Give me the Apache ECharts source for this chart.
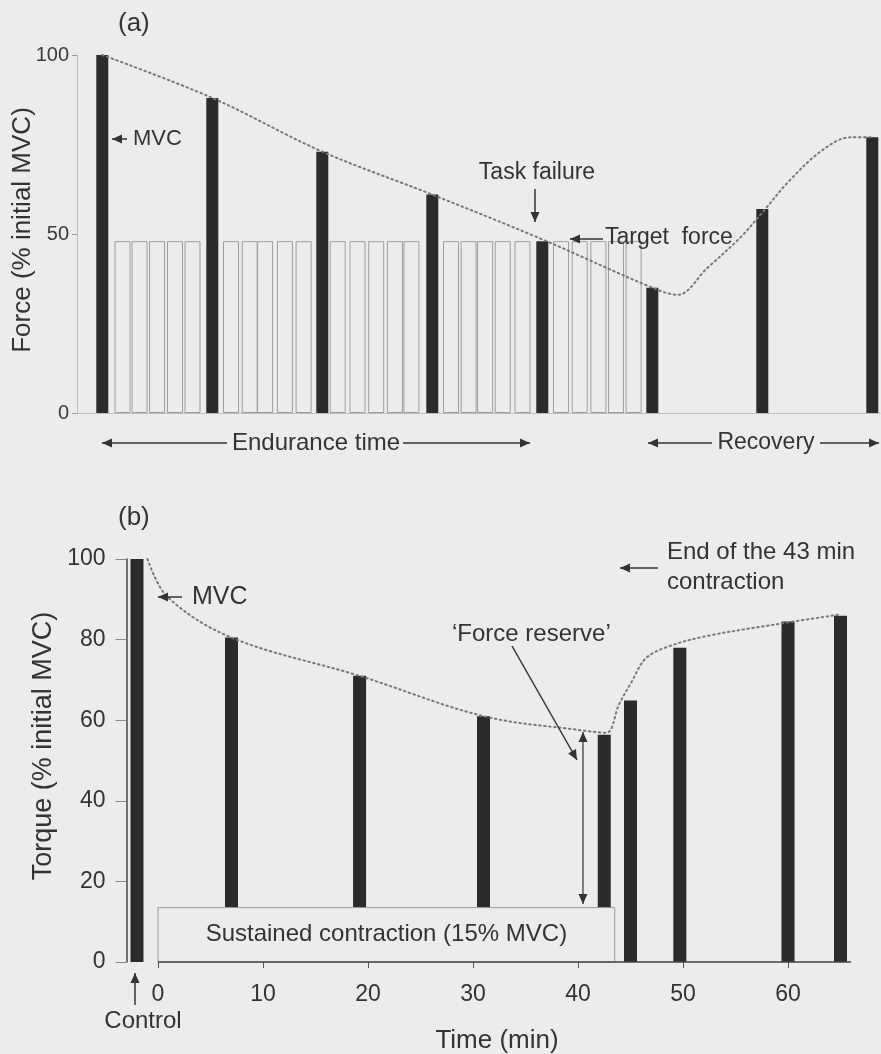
<!DOCTYPE html>
<html>
<head>
<meta charset="utf-8">
<script src="https://cdn.jsdelivr.net/npm/echarts@6/dist/echarts.min.js"></script>
<style>
html,body{margin:0;padding:0;background:#ececec;}
#chart{width:881px;height:1054px;}
</style>
</head>
<body>
<div id="chart"></div>
<script>
// ---------- Panel (a) data ----------
const mvcTimesA = [0, 10, 20, 30, 40, 50, 60, 70];
const mvcForceA = [100, 88, 73, 61, 48, 35, 57, 77];
const submaxTimesA = [1.84, 3.39, 4.98, 6.61, 8.2, 11.7, 13.4, 14.8, 16.6, 18.3, 21.4, 23.2, 24.9, 26.6, 28.1, 31.7, 33.3, 34.8, 36.4, 38.2, 41.7, 43.4, 45.1, 46.7, 48.3];
const submaxForceA = [48, 48, 48, 48, 48, 48, 48, 48, 48, 48, 48, 48, 48, 48, 48, 48, 48, 48, 48, 48, 48, 48, 48, 48, 48];
const trendTimesA = [0, 10, 20, 30, 40, 50, 52.3, 55, 58, 60, 62.5, 65.5, 68, 70];
const trendForceA = [100, 88, 73, 61, 48.5, 35, 33, 40.5, 49, 56, 65, 73.5, 77, 77];
const yTicksA = [0, 50, 100];

// ---------- Panel (b) data ----------
const barTimesB = [-2, 7, 19.2, 31, 42.5, 45, 49.7, 60, 65];
const barTorqueB = [100, 80.5, 71, 61, 56.4, 64.9, 78, 84.5, 85.9];
const trendTimesB = [-1, 0.9, 7, 19.2, 31, 40, 42.7, 43.9, 45.1, 46.4, 48.3, 52.1, 58.4, 64.8];
const trendTorqueB = [100, 90.6, 80.5, 71, 61, 57.6, 56.9, 63.9, 69.5, 75.2, 78, 80.8, 83.6, 86.2];
const xTicksB = [0, 10, 20, 30, 40, 50, 60];
const yTicksB = [0, 20, 40, 60, 80, 100];
const sustainedEnd = 43.5;   // min
const sustainedLevel = 13.5; // % (box height as drawn)
const axisEndB = 66;

// ---------- styles ----------
const BG = '#ececec';
const INK = '#2b2b2b';
const TXT = '#333333';
const FONT = "'Liberation Sans', Arial, Helvetica, sans-serif";

const chart = echarts.init(document.getElementById('chart'), null, {renderer: 'canvas'});

function txt(x, y, s, size, align, rot) {
  return {type: 'text', x: x, y: y, rotation: rot || 0, z: 100,
    style: {text: s, fill: TXT, font: size + 'px ' + FONT, align: align || 'left', verticalAlign: 'middle'}};
}
function seg(x1, y1, x2, y2, w, c) {
  return {type: 'line', z: 100, shape: {x1: x1, y1: y1, x2: x2, y2: y2},
    style: {stroke: c || '#333', lineWidth: w || 1.5}};
}
function head(xt, yt, xf, yf, len, half) {
  len = len || 10; half = half || 4.5;
  const dx = xt - xf, dy = yt - yf, d = Math.sqrt(dx * dx + dy * dy);
  const ux = dx / d, uy = dy / d;
  const bx = xt - ux * len, by = yt - uy * len;
  return {type: 'polygon', z: 100, shape: {points: [[xt, yt], [bx - uy * half, by + ux * half], [bx + uy * half, by - ux * half]]},
    style: {fill: '#333'}};
}
function arrow(x1, y1, x2, y2, startHead, endHead, w) {
  const out = [seg(x1, y1, x2, y2, w)];
  if (endHead) out.push(head(x2, y2, x1, y1));
  if (startHead) out.push(head(x1, y1, x2, y2));
  return out;
}

const graphics = [].concat(
  // panel (a)
  [txt(118, 24, '(a)', 26)],
  [txt(23, 230, 'Force (% initial MVC)', 26, 'center', Math.PI / 2)],
  arrow(127, 139, 112, 139, false, true),
  [txt(133, 139, 'MVC', 22)],
  [txt(537, 173, 'Task failure', 23, 'center')],
  arrow(535, 189, 535, 222, false, true),
  arrow(603, 239, 570, 239, false, true),
  [txt(605, 238, 'Target  force', 23)],
  arrow(227, 443, 102, 443, false, true),
  arrow(403, 443, 530, 443, false, true),
  [txt(316, 443, 'Endurance time', 24, 'center')],
  arrow(712, 443, 648, 443, false, true),
  arrow(820, 443, 879, 443, false, true),
  [txt(766, 443, 'Recovery', 23, 'center')],
  // panel (b)
  [txt(118, 518, '(b)', 26)],
  [txt(44, 746, 'Torque (% initial MVC)', 27, 'center', Math.PI / 2)],
  arrow(182, 597, 158, 597, false, true),
  [txt(192, 597, 'MVC', 25)],
  [txt(667, 552, 'End of the 43 min', 24)],
  [txt(667, 582, 'contraction', 24)],
  arrow(658, 568, 620, 568, false, true),
  [txt(452, 634, '\u2018Force reserve\u2019', 24)],
  arrow(512, 646, 577, 760, false, true),
  arrow(583, 732, 583, 904, true, true, 1.2),
  arrow(135, 1005, 135, 973, false, true),
  [txt(143, 1021, 'Control', 24, 'center')],
  [txt(497, 1041, 'Time (min)', 26, 'center')]
);

const option = {
  backgroundColor: BG,
  animation: false,
  textStyle: {fontFamily: FONT},
  grid: [
    {left: 77, top: 55, width: 803, height: 358},
    {left: 126.5, top: 559, width: 724.5, height: 403}
  ],
  xAxis: [
    {gridIndex: 0, type: 'value', min: -2.3, max: 70.7,
      axisLine: {show: true, onZero: false, lineStyle: {color: '#bdbdbd', width: 1}},
      axisTick: {show: false}, axisLabel: {show: false}, splitLine: {show: false}},
    {gridIndex: 0, type: 'value', min: -2.3, max: 70.7, show: false, splitLine: {show: false}},
    {gridIndex: 1, type: 'value', min: -3, max: axisEndB,
      axisLine: {show: false, onZero: false},
      axisTick: {show: true, customValues: xTicksB, length: 6, inside: false, lineStyle: {color: '#555', width: 1}},
      axisLabel: {show: true, customValues: xTicksB, fontSize: 23, color: TXT, margin: 21, fontFamily: FONT},
      splitLine: {show: false}}
  ],
  yAxis: [
    {gridIndex: 0, type: 'value', min: 0, max: 100, interval: 50,
      axisLine: {show: true, onZero: false, lineStyle: {color: '#bdbdbd', width: 1}},
      axisTick: {show: true, length: 5, lineStyle: {color: '#999'}},
      axisLabel: {fontSize: 20, color: '#3a3a3a', margin: 8, fontFamily: FONT},
      splitLine: {show: false}},
    {gridIndex: 1, type: 'value', min: 0, max: 100, interval: 20,
      axisLine: {show: true, onZero: false, lineStyle: {color: '#444', width: 1.5}},
      axisTick: {show: true, length: 11, lineStyle: {color: '#888'}},
      axisLabel: {fontSize: 23, color: TXT, margin: 21, fontFamily: FONT},
      splitLine: {show: false}}
  ],
  series: [
    {name: 'submax', type: 'bar', xAxisIndex: 1, yAxisIndex: 0, barWidth: 16, z: 1,
      itemStyle: {color: 'rgba(0,0,0,0)', borderColor: '#9d9d9d', borderWidth: 1},
      data: submaxTimesA.map((t, i) => [t, submaxForceA[i]])},
    {name: 'mvcA', type: 'bar', xAxisIndex: 0, yAxisIndex: 0, barWidth: 12, z: 2,
      itemStyle: {color: INK},
      data: mvcTimesA.map((t, i) => [t, mvcForceA[i]])},
    {name: 'trendA', type: 'line', xAxisIndex: 0, yAxisIndex: 0, smooth: 0.35, symbol: 'none', z: 3,
      lineStyle: {color: '#777', width: 2, type: [1.5, 3.5], cap: 'round'},
      data: trendTimesA.map((t, i) => [t, trendForceA[i]])},
    {name: 'barsB', type: 'bar', xAxisIndex: 2, yAxisIndex: 1, barWidth: 13, z: 2,
      itemStyle: {color: INK},
      data: barTimesB.map((t, i) => [t, barTorqueB[i]])},
    {name: 'trendB', type: 'line', xAxisIndex: 2, yAxisIndex: 1, smooth: 0.35, symbol: 'none', z: 3,
      lineStyle: {color: '#777', width: 2, type: [1.5, 3.5], cap: 'round'},
      data: trendTimesB.map((t, i) => [t, trendTorqueB[i]])},
    {name: 'box', type: 'line', xAxisIndex: 2, yAxisIndex: 1, data: [], z: 5, symbol: 'none',
      markArea: {silent: true, z: 6,
        itemStyle: {color: BG, opacity: 1, borderColor: '#9a9a9a', borderWidth: 1},
        label: {show: true, position: 'inside', fontSize: 24, color: TXT, fontFamily: FONT,
          formatter: 'Sustained contraction (15% MVC)'},
        data: [[{coord: [0, 0]}, {coord: [sustainedEnd, sustainedLevel]}]]},
      markLine: {silent: true, z: 7, symbol: ['none', 'none'], label: {show: false},
        lineStyle: {color: '#444', width: 1.5, type: 'solid'},
        data: [[{coord: [0, 0]}, {coord: [axisEndB, 0]}]]}}
  ],
  graphic: graphics
};
chart.setOption(option);
</script>
</body>
</html>
